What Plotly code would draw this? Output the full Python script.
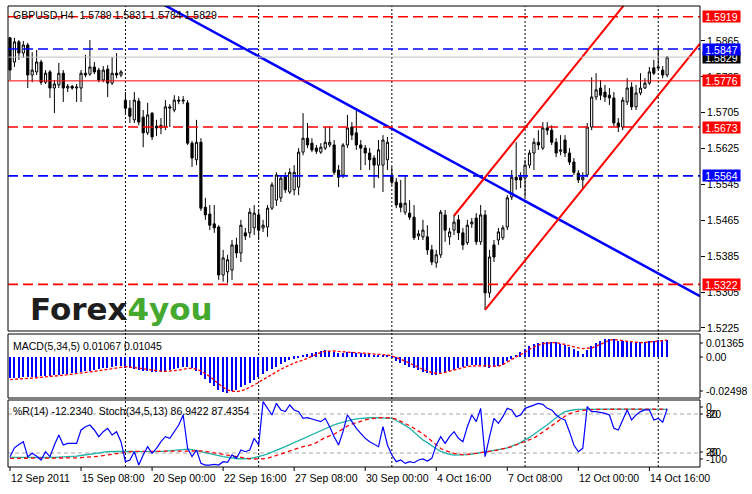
import plotly.graph_objects as go

# ---------------- data ----------------
open_ = [
1.5872, 1.5818, 1.5863, 1.5838, 1.5856, 1.5789, 1.5796, 1.5818, 1.5773, 1.5796,
1.5760, 1.5767, 1.5793, 1.5760, 1.5764, 1.5760, 1.5760, 1.5793, 1.5791, 1.5807,
1.5800, 1.5778, 1.5802, 1.5771, 1.5793, 1.5789, 1.5733, 1.5715, 1.5689, 1.5731,
1.5695, 1.5660, 1.5704, 1.5675, 1.5671, 1.5673, 1.5715, 1.5711, 1.5733, 1.5731,
1.5727, 1.5637, 1.5600, 1.5639, 1.5494, 1.5479, 1.5457, 1.5450, 1.5343, 1.5350,
1.5354, 1.5410, 1.5392, 1.5437, 1.5437, 1.5448, 1.5477, 1.5448, 1.5450, 1.5492,
1.5510, 1.5515, 1.5563, 1.5528, 1.5533, 1.5539, 1.5617, 1.5648, 1.5637, 1.5626,
1.5617, 1.5626, 1.5633, 1.5633, 1.5577, 1.5566, 1.5633, 1.5673, 1.5660, 1.5633,
1.5626, 1.5615, 1.5604, 1.5588, 1.5588, 1.5600, 1.5566, 1.5550, 1.5503, 1.5483,
1.5481, 1.5472, 1.5430, 1.5428, 1.5428, 1.5399, 1.5370, 1.5388, 1.5477, 1.5428,
1.5443, 1.5466, 1.5437, 1.5415, 1.5457, 1.5470, 1.5417, 1.5477, 1.5303, 1.5410,
1.5421, 1.5426, 1.5450, 1.5517, 1.5561, 1.5561, 1.5559, 1.5588, 1.5615, 1.5639,
1.5626, 1.5671, 1.5666, 1.5639, 1.5619, 1.5644, 1.5615, 1.5595, 1.5570, 1.5555,
1.5566, 1.5673, 1.5740, 1.5760, 1.5751, 1.5744, 1.5738, 1.5682, 1.5673, 1.5729,
1.5762, 1.5718, 1.5749, 1.5760, 1.5771, 1.5805, 1.5807, 1.5800, 1.5789]

high_ = [
1.5874, 1.5872, 1.5867, 1.5865, 1.5861, 1.5840, 1.5845, 1.5823, 1.5800, 1.5800,
1.5778, 1.5816, 1.5800, 1.5769, 1.5767, 1.5769, 1.5800, 1.5834, 1.5867, 1.5818,
1.5805, 1.5809, 1.5811, 1.5829, 1.5838, 1.5800, 1.5751, 1.5733, 1.5751, 1.5738,
1.5711, 1.5727, 1.5706, 1.5689, 1.5693, 1.5733, 1.5724, 1.5744, 1.5742, 1.5742,
1.5733, 1.5642, 1.5689, 1.5648, 1.5515, 1.5499, 1.5499, 1.5454, 1.5399, 1.5388,
1.5421, 1.5426, 1.5466, 1.5448, 1.5492, 1.5499, 1.5488, 1.5466, 1.5499, 1.5550,
1.5572, 1.5566, 1.5572, 1.5581, 1.5588, 1.5626, 1.5704, 1.5682, 1.5648, 1.5633,
1.5637, 1.5673, 1.5673, 1.5644, 1.5588, 1.5637, 1.5700, 1.5684, 1.5715, 1.5644,
1.5633, 1.5626, 1.5610, 1.5644, 1.5655, 1.5651, 1.5584, 1.5559, 1.5555, 1.5566,
1.5510, 1.5499, 1.5443, 1.5466, 1.5454, 1.5410, 1.5399, 1.5488, 1.5488, 1.5448,
1.5477, 1.5477, 1.5448, 1.5466, 1.5470, 1.5481, 1.5499, 1.5488, 1.5399, 1.5421,
1.5448, 1.5454, 1.5521, 1.5577, 1.5639, 1.5572, 1.5600, 1.5622, 1.5648, 1.5666,
1.5684, 1.5684, 1.5677, 1.5648, 1.5655, 1.5655, 1.5626, 1.5604, 1.5577, 1.5572,
1.5682, 1.5784, 1.5793, 1.5778, 1.5767, 1.5760, 1.5751, 1.5693, 1.5740, 1.5782,
1.5773, 1.5767, 1.5793, 1.5782, 1.5807, 1.5823, 1.5852, 1.5809, 1.5831]

low_ = [
1.5778, 1.5807, 1.5823, 1.5827, 1.5760, 1.5773, 1.5789, 1.5767, 1.5769, 1.5738,
1.5704, 1.5760, 1.5729, 1.5751, 1.5756, 1.5729, 1.5729, 1.5784, 1.5787, 1.5791,
1.5773, 1.5773, 1.5740, 1.5767, 1.5782, 1.5784, 1.5700, 1.5682, 1.5682, 1.5677,
1.5628, 1.5655, 1.5644, 1.5653, 1.5657, 1.5666, 1.5673, 1.5706, 1.5724, 1.5724,
1.5633, 1.5584, 1.5588, 1.5486, 1.5466, 1.5443, 1.5437, 1.5332, 1.5328, 1.5325,
1.5332, 1.5381, 1.5372, 1.5421, 1.5426, 1.5432, 1.5421, 1.5439, 1.5428, 1.5488,
1.5497, 1.5506, 1.5526, 1.5524, 1.5521, 1.5521, 1.5610, 1.5626, 1.5617, 1.5613,
1.5613, 1.5622, 1.5628, 1.5566, 1.5539, 1.5559, 1.5626, 1.5644, 1.5622, 1.5577,
1.5588, 1.5577, 1.5537, 1.5559, 1.5528, 1.5577, 1.5544, 1.5492, 1.5483, 1.5477,
1.5466, 1.5421, 1.5421, 1.5421, 1.5388, 1.5365, 1.5359, 1.5381, 1.5417, 1.5410,
1.5432, 1.5421, 1.5399, 1.5410, 1.5448, 1.5410, 1.5410, 1.5265, 1.5292, 1.5372,
1.5410, 1.5421, 1.5443, 1.5510, 1.5533, 1.5537, 1.5517, 1.5581, 1.5577, 1.5622,
1.5622, 1.5655, 1.5633, 1.5606, 1.5610, 1.5606, 1.5588, 1.5566, 1.5548, 1.5537,
1.5561, 1.5666, 1.5733, 1.5733, 1.5729, 1.5722, 1.5675, 1.5662, 1.5666, 1.5722,
1.5711, 1.5711, 1.5744, 1.5758, 1.5767, 1.5789, 1.5800, 1.5782, 1.5784]

close_ = [
1.5800, 1.5863, 1.5838, 1.5856, 1.5789, 1.5800, 1.5818, 1.5773, 1.5793, 1.5760,
1.5769, 1.5793, 1.5760, 1.5764, 1.5760, 1.5762, 1.5793, 1.5789, 1.5807, 1.5796,
1.5778, 1.5800, 1.5771, 1.5793, 1.5789, 1.5796, 1.5715, 1.5697, 1.5733, 1.5684,
1.5660, 1.5700, 1.5651, 1.5671, 1.5677, 1.5718, 1.5718, 1.5733, 1.5731, 1.5733,
1.5637, 1.5604, 1.5639, 1.5492, 1.5477, 1.5454, 1.5448, 1.5343, 1.5381, 1.5377,
1.5410, 1.5392, 1.5454, 1.5430, 1.5483, 1.5481, 1.5443, 1.5454, 1.5492, 1.5544,
1.5566, 1.5559, 1.5533, 1.5572, 1.5572, 1.5617, 1.5648, 1.5633, 1.5622, 1.5619,
1.5628, 1.5639, 1.5639, 1.5572, 1.5561, 1.5633, 1.5671, 1.5655, 1.5633, 1.5626,
1.5615, 1.5600, 1.5588, 1.5622, 1.5644, 1.5639, 1.5550, 1.5499, 1.5494, 1.5503,
1.5472, 1.5426, 1.5435, 1.5443, 1.5399, 1.5372, 1.5388, 1.5483, 1.5443, 1.5439,
1.5461, 1.5437, 1.5410, 1.5454, 1.5461, 1.5417, 1.5477, 1.5303, 1.5383, 1.5383,
1.5439, 1.5448, 1.5515, 1.5561, 1.5555, 1.5555, 1.5588, 1.5615, 1.5639, 1.5633,
1.5671, 1.5666, 1.5639, 1.5615, 1.5622, 1.5615, 1.5595, 1.5572, 1.5555, 1.5561,
1.5673, 1.5740, 1.5756, 1.5744, 1.5740, 1.5738, 1.5682, 1.5673, 1.5733, 1.5760,
1.5718, 1.5749, 1.5760, 1.5771, 1.5796, 1.5793, 1.5805, 1.5789, 1.5829]

macd_main = [
-0.0132, -0.0131, -0.0130, -0.0128, -0.0128, -0.0126, -0.0123, -0.0121, -0.0118, -0.0116,
-0.0113, -0.0110, -0.0108, -0.0105, -0.0101, -0.0098, -0.0094, -0.0090, -0.0085, -0.0080,
-0.0076, -0.0072, -0.0068, -0.0063, -0.0058, -0.0054, -0.0066, -0.0072, -0.0074, -0.0079,
-0.0086, -0.0088, -0.0092, -0.0093, -0.0092, -0.0088, -0.0084, -0.0077, -0.0070, -0.0064,
-0.0062, -0.0072, -0.0085, -0.0115, -0.0140, -0.0162, -0.0180, -0.0205, -0.0220, -0.0223,
-0.0214, -0.0204, -0.0190, -0.0177, -0.0160, -0.0142, -0.0125, -0.0108, -0.0090, -0.0074,
-0.0060, -0.0046, -0.0034, -0.0022, -0.0012, -0.0004, 0.0006, 0.0016, 0.0026, 0.0033,
0.0038, 0.0040, 0.0038, 0.0032, 0.0026, 0.0026, 0.0030, 0.0028, 0.0026, 0.0022,
0.0018, 0.0016, 0.0014, 0.0013, 0.0014, 0.0012, -0.0002, -0.0028, -0.0040, -0.0050,
-0.0060, -0.0072, -0.0082, -0.0092, -0.0102, -0.0112, -0.0115, -0.0102, -0.0096, -0.0090,
-0.0082, -0.0072, -0.0064, -0.0058, -0.0052, -0.0050, -0.0048, -0.0062, -0.0068, -0.0064,
-0.0054, -0.0048, -0.0026, -0.0010, 0.0012, 0.0030, 0.0052, 0.0068, 0.0078, 0.0086,
0.0092, 0.0096, 0.0095, 0.0090, 0.0082, 0.0074, 0.0062, 0.0050, 0.0034, 0.0018,
0.0040, 0.0068, 0.0086, 0.0102, 0.0110, 0.0113, 0.0110, 0.0102, 0.0101, 0.0098,
0.0092, 0.0090, 0.0092, 0.0094, 0.0098, 0.0102, 0.0104, 0.0105, 0.01067]

macd_signal = [
-0.0141, -0.0140, -0.0138, -0.0136, -0.0134, -0.0132, -0.0130, -0.0128, -0.0126, -0.0123,
-0.0120, -0.0117, -0.0114, -0.0111, -0.0108, -0.0105, -0.0102, -0.0098, -0.0094, -0.0090,
-0.0086, -0.0082, -0.0077, -0.0072, -0.0067, -0.0062, -0.0060, -0.0063, -0.0067, -0.0071,
-0.0075, -0.0080, -0.0084, -0.0087, -0.0089, -0.0090, -0.0089, -0.0086, -0.0082, -0.0077,
-0.0072, -0.0072, -0.0076, -0.0088, -0.0103, -0.0122, -0.0145, -0.0168, -0.0190, -0.0205,
-0.0214, -0.0216, -0.0212, -0.0203, -0.0190, -0.0175, -0.0158, -0.0141, -0.0125, -0.0108,
-0.0092, -0.0077, -0.0063, -0.0050, -0.0038, -0.0027, -0.0020, -0.0008, 0.0005, 0.0018,
0.0028, 0.0035, 0.0038, 0.0037, 0.0034, 0.0031, 0.0028, 0.0027, 0.0026, 0.0025,
0.0023, 0.0021, 0.0020, 0.0018, 0.0015, 0.0012, 0.0006, -0.0002, -0.0014, -0.0026,
-0.0040, -0.0054, -0.0066, -0.0078, -0.0088, -0.0098, -0.0103, -0.0102, -0.0096, -0.0088,
-0.0080, -0.0072, -0.0064, -0.0060, -0.0057, -0.0055, -0.0055, -0.0056, -0.0058, -0.0060,
-0.0058, -0.0048, -0.0034, -0.0016, 0.0000, 0.0014, 0.0030, 0.0048, 0.0062, 0.0074,
0.0082, 0.0087, 0.0089, 0.0089, 0.0085, 0.0078, 0.0070, 0.0062, 0.0056, 0.0052,
0.0052, 0.0056, 0.0066, 0.0080, 0.0094, 0.0104, 0.0108, 0.0106, 0.0102, 0.0097,
0.0093, 0.0090, 0.0089, 0.0090, 0.0093, 0.0097, 0.0100, 0.0103, 0.01045]

stoch_main = [
13.3, 13.2, 13.0, 13.0, 12.9, 12.8, 12.8, 12.9, 13.0, 13.1,
13.3, 13.5, 13.8, 14.2, 14.7, 15.3, 16.2, 17.3, 18.5, 19.6,
20.6, 21.4, 22.0, 22.4, 22.6, 22.6, 22.5, 22.3, 22.2, 22.1,
22.0, 22.0, 22.1, 22.3, 22.6, 23.0, 23.4, 23.8, 24.3, 25.5,
26.0, 25.2, 23.5, 22.2, 20.7, 19.1, 17.5, 16.0, 14.6, 13.3,
12.3, 11.6, 11.2, 11.0, 11.6, 13.0, 14.4, 16.3, 18.6, 21.2,
24.0, 26.9, 29.9, 33.0, 36.1, 39.3, 42.5, 45.7, 48.9, 52.0,
55.1, 58.0, 60.8, 63.4, 65.7, 67.8, 69.6, 71.1, 72.4, 73.3,
73.9, 74.2, 74.4, 74.3, 74.0, 73.6, 73.2, 70.0, 66.5, 62.5,
58.0, 52.0, 46.0, 40.0, 36.0, 31.0, 26.5, 22.5, 19.8, 17.8,
16.9, 16.8, 17.0, 17.5, 18.2, 19.2, 20.5, 21.8, 23.0, 24.0,
25.0, 26.2, 28.0, 30.2, 33.0, 36.3, 39.8, 44.0, 48.8, 53.5,
58.0, 63.5, 69.0, 74.5, 79.5, 83.5, 85.5, 86.5, 87.0, 87.3,
87.4, 87.5, 87.5, 87.6, 87.6, 87.6, 87.5, 87.5, 87.4, 87.4,
87.3, 87.3, 87.2, 87.2, 87.1, 87.1, 87.0, 87.0, 86.9422]

stoch_signal = [
11.8, 11.8, 11.7, 11.7, 11.6, 11.6, 11.6, 11.6, 11.7, 11.7,
11.8, 11.9, 12.0, 12.1, 12.3, 12.5, 12.8, 13.2, 13.7, 14.3,
15.0, 16.0, 17.2, 18.4, 19.5, 20.5, 21.8, 22.2, 22.4, 22.5,
22.5, 22.4, 22.3, 22.2, 22.2, 22.3, 22.5, 22.8, 23.1, 23.4,
23.6, 23.7, 23.6, 23.2, 22.5, 21.6, 20.5, 19.3, 18.0, 16.7,
15.4, 14.2, 13.0, 12.0, 11.2, 10.8, 10.6, 11.0, 11.8, 14.0,
16.0, 18.5, 20.8, 23.2, 25.8, 28.0, 30.0, 31.0, 32.8, 36.0,
40.0, 43.8, 46.5, 48.8, 53.0, 57.5, 61.5, 64.5, 67.0, 69.0,
71.0, 72.5, 73.6, 74.2, 74.4, 74.4, 73.8, 72.0, 69.0, 66.0,
62.0, 58.0, 54.0, 49.5, 44.0, 38.0, 31.5, 27.0, 23.5, 21.0,
19.5, 18.2, 17.4, 17.8, 18.5, 19.8, 20.6, 21.5, 22.4, 23.4,
24.6, 26.0, 28.0, 30.0, 32.5, 35.5, 38.5, 41.0, 43.0, 47.5,
52.5, 57.0, 62.0, 67.0, 72.0, 76.5, 80.5, 83.0, 84.5, 85.5,
86.2, 86.6, 86.9, 87.1, 87.3, 87.5, 87.6, 87.7, 87.7, 87.7,
87.7, 87.6, 87.6, 87.6, 87.5, 87.5, 87.5, 87.4, 87.4354]

wpr = [
-85.6, -72.0, -67.0, -62.6, -85.6, -80.5, -85.0, -90.8, -78.0, -85.6,
-67.7, -52.3, -67.7, -65.1, -65.1, -65.1, -44.6, -39.5, -37.0, -44.6,
-54.9, -47.2, -42.0, -52.3, -47.2, -62.6, -93.3, -90.8, -78.0, -98.5,
-83.0, -70.3, -80.5, -72.8, -62.6, -54.9, -57.4, -47.2, -37.0, -21.5,
-72.8, -85.6, -75.4, -95.9, -98.5, -98.5, -97.4, -98.5, -93.3, -94.4,
-83.0, -88.2, -75.4, -78.0, -75.4, -57.4, -67.7, -1.0, -11.3, -21.5,
-3.6, -13.8, -16.4, -6.2, -13.8, -16.4, -26.7, -25.6, -27.7, -29.2,
-31.8, -26.7, -39.5, -54.9, -67.7, -47.2, -21.5, -31.8, -42.0, -49.7,
-57.4, -62.6, -66.7, -70.3, -39.5, -67.7, -83.0, -93.3, -90.8, -95.9,
-93.3, -94.9, -90.8, -89.2, -92.3, -88.2, -67.7, -54.9, -65.1, -54.9,
-47.2, -57.4, -62.6, -39.5, -21.5, -31.8, -11.3, -85.6, -54.9, -26.7,
-34.4, -24.1, -11.3, -13.8, -24.1, -21.5, -11.3, -8.7, -6.2, -3.6,
-5.1, -11.3, -13.8, -21.5, -26.7, -29.2, -47.2, -67.7, -78.0, -72.8,
-8.7, -16.4, -16.4, -17.4, -19.0, -21.5, -42.0, -44.6, -29.2, -13.8,
-29.2, -21.5, -16.4, -13.8, -13.8, -29.2, -26.7, -32.8, -12.234]

tick_bars = [0, 16, 32, 48, 64, 80, 96, 112, 128, 144]
tick_labels = ["12 Sep 2011", "15 Sep 08:00", "20 Sep 00:00", "22 Sep 16:00", "27 Sep 08:00",
               "30 Sep 00:00", "4 Oct 16:00", "7 Oct 08:00", "12 Oct 00:00", "14 Oct 16:00"]
grid_bars = [26, 56, 86, 116, 146]
price_ticks = [1.5225, 1.5305, 1.5385, 1.5465, 1.5545, 1.5625, 1.5705, 1.5785, 1.5865]

level_prices = [1.5919, 1.5847, 1.5829, 1.5776, 1.5673, 1.5564, 1.5322]
level_colors = ["#ff0000", "#0000ff", "#c0c0c0", "#ff0000", "#ff0000", "#0000ff", "#ff0000"]
level_dashed = [True, True, False, False, True, True, True]
label_order = [0, 2, 1, 3, 4, 5, 6]          # draw bid box before blue box
label_colors = ["#ff0000", "#0000ff", "#000000", "#ff0000", "#ff0000", "#0000ff", "#ff0000"]

trend_bars = [40, 150]
trend_prices = [1.5917, 1.5325]
chan_bars = [107, 151]
chan_prices = [1.5265, 1.5805]
chan_width = 0.0296
chan_upper_start = 100

title_text = "GBPUSD,H4&nbsp; 1.5789 1.5831 1.5784 1.5829"
macd_text = "MACD(5,34,5) 0.01067 0.01045"
stoch_text = "%R(14) -12.2340&nbsp; Stoch(34,5,13) 86.9422 87.4354"

assert all(len(a) == 149 for a in [open_, high_, low_, close_, macd_main, macd_signal,
                                   stoch_main, stoch_signal, wpr])

# ---------------- layout geometry ----------------
W, H = 752, 494
ML, MR, MT, MB = 8, 52, 6, 27
PW, PH = W - ML - MR, H - MT - MB
XR = [-0.45, 155.4]


def py(y):
    return (H - MB - y) / PH


def px(x):
    return (x - ML) / PW


FONT = "Liberation Sans, Arial, sans-serif"
idx = list(range(len(close_)))

fig = go.Figure()

fig.add_trace(go.Candlestick(
    x=idx, open=open_, high=high_, low=low_, close=close_,
    increasing=dict(line=dict(color="black", width=1), fillcolor="white"),
    decreasing=dict(line=dict(color="black", width=1), fillcolor="black"),
    whiskerwidth=0, xaxis="x", yaxis="y", showlegend=False, hoverinfo="skip"))

# trend line (ray through two anchors, extended to both edges, clipped by axes)
s = (trend_prices[1] - trend_prices[0]) / (trend_bars[1] - trend_bars[0])
tx = [XR[0], XR[1]]
ty = [trend_prices[0] + s * (v - trend_bars[0]) for v in tx]
fig.add_trace(go.Scatter(x=tx, y=ty, mode="lines", line=dict(color="#0000ff", width=2.5),
                         xaxis="x", yaxis="y", showlegend=False, hoverinfo="skip"))

# channel
cs = (chan_prices[1] - chan_prices[0]) / (chan_bars[1] - chan_bars[0])
lx = [chan_bars[0], XR[1]]
ly = [chan_prices[0] + cs * (v - chan_bars[0]) for v in lx]
ux = [chan_upper_start, XR[1]]
uy = [chan_prices[0] + chan_width + cs * (v - chan_bars[0]) for v in ux]
for xx, yy in [(lx, ly), (ux, uy)]:
    fig.add_trace(go.Scatter(x=xx, y=yy, mode="lines", line=dict(color="#ff0000", width=2),
                             xaxis="x", yaxis="y", showlegend=False, hoverinfo="skip"))

# MACD
fig.add_trace(go.Bar(x=idx, y=macd_main, width=0.34, marker=dict(color="#0000ff", line=dict(width=0)),
                     xaxis="x2", yaxis="y2", showlegend=False, hoverinfo="skip"))
fig.add_trace(go.Scatter(x=idx, y=macd_signal, mode="lines",
                         line=dict(color="#ff0000", width=1.3, dash="3px,2px"),
                         xaxis="x2", yaxis="y2", showlegend=False, hoverinfo="skip"))

# Stochastic + WPR
fig.add_trace(go.Scatter(x=idx, y=stoch_main, mode="lines", line=dict(color="#20b2aa", width=1.3),
                         xaxis="x3", yaxis="y3", showlegend=False, hoverinfo="skip"))
fig.add_trace(go.Scatter(x=idx, y=stoch_signal, mode="lines",
                         line=dict(color="#ff0000", width=1.3, dash="4px,3px"),
                         xaxis="x3", yaxis="y3", showlegend=False, hoverinfo="skip"))
fig.add_trace(go.Scatter(x=idx, y=wpr, mode="lines", line=dict(color="#0000ff", width=1.2),
                         xaxis="x3", yaxis="y4", showlegend=False, hoverinfo="skip"))

shapes = []
# vertical dotted grid
for g in grid_bars:
    shapes.append(dict(type="line", xref="x", yref="paper", x0=g, x1=g, y0=0, y1=1,
                       line=dict(color="black", width=1, dash="2px,2px"), layer="below"))
# horizontal levels
for p, c, d in zip(level_prices, level_colors, level_dashed):
    shapes.append(dict(type="line", xref="paper", yref="y", x0=0, x1=1, y0=p, y1=p,
                       line=dict(color=c, width=1.6 if d else 1, dash="10px,5px" if d else "solid")))
# stoch levels
for lv in [80, 20]:
    shapes.append(dict(type="line", xref="paper", yref="y3", x0=0, x1=1, y0=lv, y1=lv,
                       line=dict(color="#a8a8a8", width=1, dash="4px,3px"), layer="below"))
# panel frames
for y_top, y_bot in [(6, 331), (334, 398), (400, 467)]:
    shapes.append(dict(type="rect", xref="paper", yref="paper", x0=0, x1=1, y0=py(y_bot), y1=py(y_top),
                       line=dict(color="black", width=1), fillcolor="rgba(0,0,0,0)"))
# bottom time ticks
for tb in tick_bars:
    shapes.append(dict(type="line", xref="x3", yref="paper", x0=tb, x1=tb, y0=py(467), y1=py(471),
                       line=dict(color="black", width=1)))
# sub-window right ticks
for yy in [343, 357, 391, 407, 414, 452, 459]:
    shapes.append(dict(type="line", xref="paper", yref="paper", x0=px(700), x1=px(703), y0=py(yy), y1=py(yy),
                       line=dict(color="black", width=1)))

ann = []
ann.append(dict(xref="paper", yref="paper", x=px(11), y=py(15), xanchor="left", yanchor="middle",
                text=title_text, showarrow=False, font=dict(family=FONT, size=10.5, color="black")))
ann.append(dict(xref="paper", yref="paper", x=px(11), y=py(346), xanchor="left", yanchor="middle",
                text=macd_text, showarrow=False, font=dict(family=FONT, size=10.5, color="black")))
ann.append(dict(xref="paper", yref="paper", x=px(11), y=py(411), xanchor="left", yanchor="middle",
                text=stoch_text, showarrow=False, font=dict(family=FONT, size=10.5, color="black")))
# logo
ann.append(dict(xref="paper", yref="paper", x=px(28), y=py(309), xanchor="left", yanchor="middle",
                text="<b>Forex<span style='color:#45a82f'>4you</span></b>", showarrow=False,
                font=dict(family="DejaVu Sans, sans-serif", size=31, color="#1e1e1e")))
# price label boxes
for k in label_order:
    ann.append(dict(xref="paper", yref="y", x=px(702), y=level_prices[k], xanchor="left", yanchor="middle",
                    text="%.4f" % level_prices[k], showarrow=False, bgcolor=label_colors[k],
                    width=36, height=10, borderpad=0.5,
                    font=dict(family=FONT, size=10.5, color="white")))
# sub-window scale labels
for txt, yy in [("0.01365", 343), ("0.00", 357), ("-0.02498", 391),
                ("0", 407), ("80", 414), ("-20", 414), ("20", 452), ("-80", 452), ("-100", 459)]:
    ann.append(dict(xref="paper", yref="paper", x=px(704), y=py(yy), xanchor="left", yanchor="middle",
                    text=txt, showarrow=False, font=dict(family=FONT, size=10.5, color="black")))
# time labels
for tb, tl in zip(tick_bars, tick_labels):
    ann.append(dict(xref="x3", yref="paper", x=tb, y=py(478), xanchor="left", yanchor="middle",
                    xshift=-1, text=tl, showarrow=False, font=dict(family=FONT, size=10.5, color="black")))

hidden = dict(showgrid=False, zeroline=False, showticklabels=False, ticks="", fixedrange=True)

fig.update_layout(
    width=W, height=H, margin=dict(l=ML, r=MR, t=MT, b=MB),
    paper_bgcolor="white", plot_bgcolor="white", showlegend=False, bargap=0,
    xaxis=dict(domain=[0, 1], range=XR, anchor="y", rangeslider=dict(visible=False), **hidden),
    xaxis2=dict(domain=[0, 1], range=XR, anchor="y2", matches="x", **hidden),
    xaxis3=dict(domain=[0, 1], range=XR, anchor="y3", matches="x", **hidden),
    yaxis=dict(domain=[py(331), 1], range=[1.5218, 1.5943], side="right", anchor="x",
               tickvals=price_ticks, ticktext=["%.4f" % v for v in price_ticks],
               ticks="outside", ticklen=4, tickcolor="black", showgrid=False, zeroline=False,
               showline=False, tickfont=dict(family=FONT, size=10.5, color="black"), fixedrange=True),
    yaxis2=dict(domain=[py(398), py(334)], range=[-0.0256, 0.01427], anchor="x2", **hidden),
    yaxis3=dict(domain=[0, py(400)], range=[-1.5, 101.5], anchor="x3", **hidden),
    yaxis4=dict(domain=[0, py(400)], range=[-101.5, 1.5], overlaying="y3", anchor="x3", **hidden),
    shapes=shapes, annotations=ann,
)

fig.write_html("out.html", config={"displayModeBar": False},
               post_script="document.body.style.margin='0px';document.body.style.overflow='hidden';")
